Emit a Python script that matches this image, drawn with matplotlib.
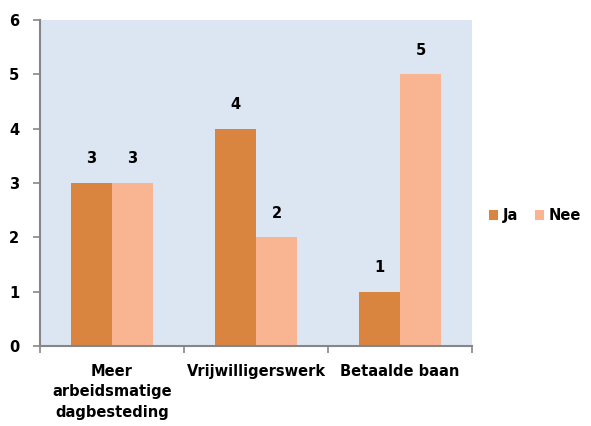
import matplotlib.pyplot as plt
import numpy as np

categories = ["Meer\narbeidsmatige\ndagbesteding", "Vrijwilligerswerk", "Betaalde baan"]
ja = [3, 4, 1]
nee = [3, 2, 5]

plt.rcParams['font.family'] = ['DejaVu Sans']
plt.rcParams['font.weight'] = 'bold'

fig = plt.figure(figsize=(5.91, 4.26), dpi=100)
ax = fig.add_axes([0.0677, 0.188, 0.731, 0.765])
ax.set_facecolor('#dce6f2')

x = np.arange(len(categories))
w = 0.285
b1 = ax.bar(x - w / 2, ja, w, color='#d98540', label='Ja', zorder=2)
b2 = ax.bar(x + w / 2, nee, w, color='#f9b592', label='Nee', zorder=2)

for bars in (b1, b2):
    for r in bars:
        ax.annotate(str(int(r.get_height())), (r.get_x() + r.get_width() / 2, r.get_height()),
                    xytext=(0, 12), textcoords='offset points', ha='center', va='bottom',
                    fontsize=10.5, fontweight='bold')

ax.set_xlim(-0.5, 2.5)
ax.set_ylim(0, 6)
ax.set_yticks(range(7))
ax.set_xticks([-0.5, 0.5, 1.5, 2.5])
ax.set_xticklabels([])
ax.set_xticks(x, minor=True)
ax.set_xticklabels(categories, minor=True, fontsize=10.5, fontweight='bold', linespacing=1.45)
ax.tick_params(axis='x', which='minor', length=0, pad=13)
ax.tick_params(axis='x', which='major', length=5, color='#868686', width=1.2)
ax.tick_params(axis='y', length=5, color='#868686', width=1.2, labelsize=10.5, pad=10)
for lab in ax.get_yticklabels():
    lab.set_fontweight('bold')

for s in ('top', 'right'):
    ax.spines[s].set_visible(False)
for s in ('left', 'bottom'):
    ax.spines[s].set_color('#868686')
    ax.spines[s].set_linewidth(1.5)

ax.legend(loc='center left', bbox_to_anchor=(1.01, 0.4), ncol=2, frameon=False,
          handlelength=0.6, handleheight=0.6, handletextpad=0.3, columnspacing=1.2,
          prop={'weight': 'bold', 'size': 10.5})

plt.savefig("out.png", dpi=100)
